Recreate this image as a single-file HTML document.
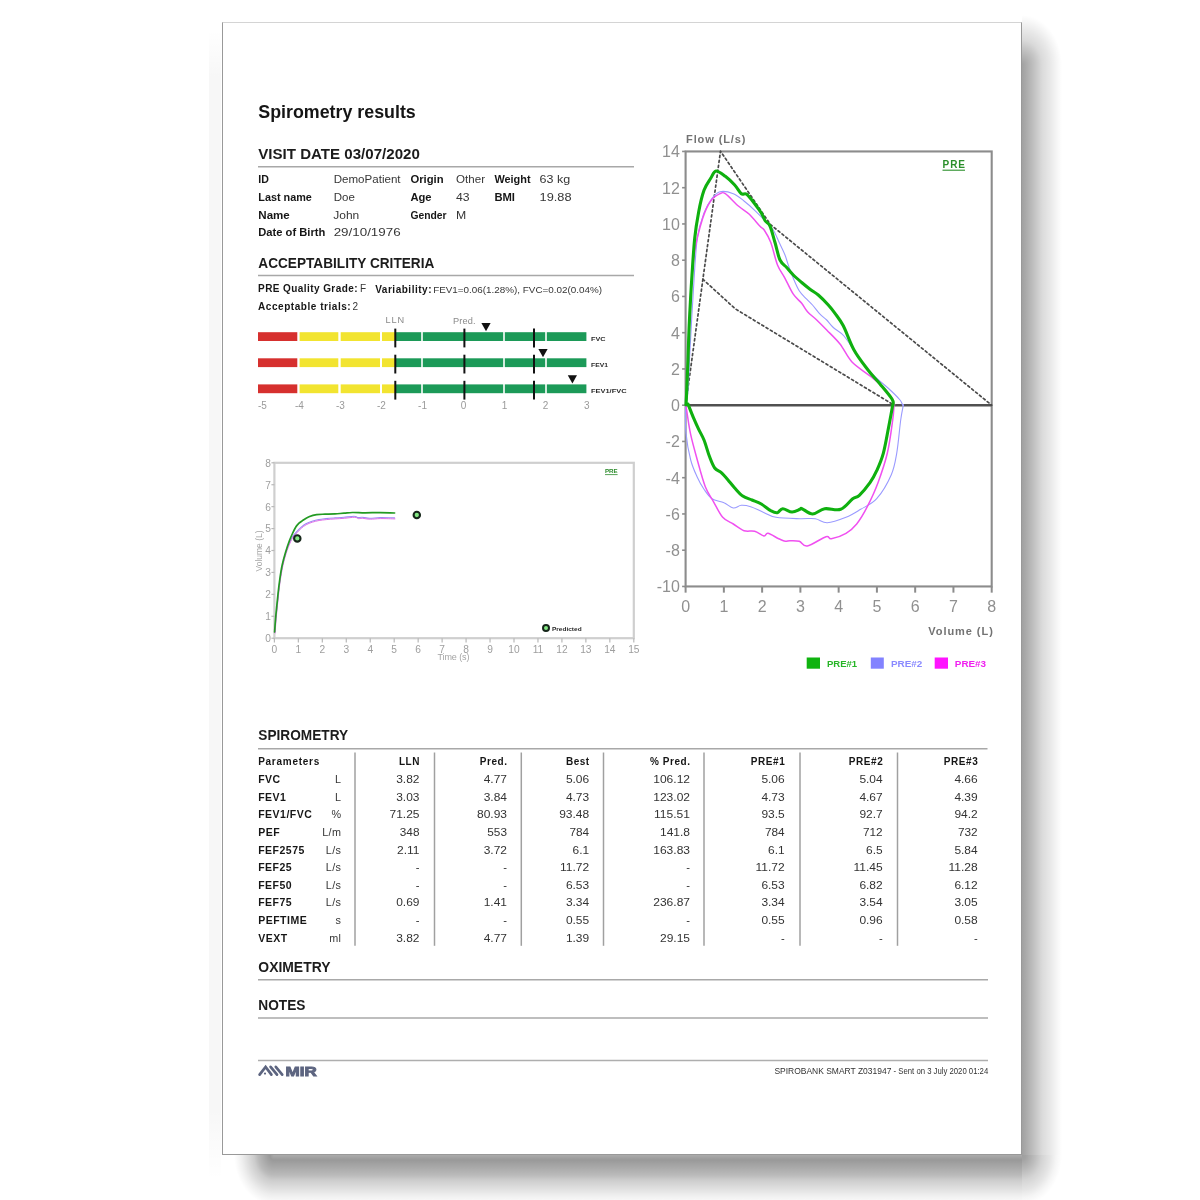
<!DOCTYPE html>
<html><head><meta charset="utf-8"><style>
html,body{margin:0;padding:0;background:#fff;width:1200px;height:1200px;overflow:hidden;}
body{filter:blur(0.4px);}
#paper{position:absolute;left:222px;top:22px;width:798px;height:1131px;background:#fff;border:1px solid #999;border-top-color:#d4d4d4;}
svg{position:absolute;left:0;top:0;}
text{font-family:"Liberation Sans", sans-serif;}
</style></head><body>
<div style="position:absolute;left:1022px;top:65px;width:40px;height:1090px;background:linear-gradient(to right,rgba(0,0,0,0.370) 0.0%,rgba(0,0,0,0.340) 7.5%,rgba(0,0,0,0.230) 32.5%,rgba(0,0,0,0.145) 50.0%,rgba(0,0,0,0.090) 70.0%,rgba(0,0,0,0.035) 87.5%,rgba(0,0,0,0.000) 100.0%)"></div><div style="position:absolute;left:274px;top:1155px;width:748px;height:50px;background:linear-gradient(to bottom,rgba(0,0,0,0.330) 0.0%,rgba(0,0,0,0.400) 10.0%,rgba(0,0,0,0.340) 24.0%,rgba(0,0,0,0.270) 40.0%,rgba(0,0,0,0.200) 50.0%,rgba(0,0,0,0.130) 66.0%,rgba(0,0,0,0.067) 80.0%,rgba(0,0,0,0.030) 90.0%,rgba(0,0,0,0.000) 100.0%)"></div><div style="position:absolute;left:224px;top:65px;width:40px;height:1090px;background:linear-gradient(to left,rgba(0,0,0,0.130) 0.0%,rgba(0,0,0,0.119) 7.5%,rgba(0,0,0,0.081) 32.5%,rgba(0,0,0,0.051) 50.0%,rgba(0,0,0,0.032) 70.0%,rgba(0,0,0,0.012) 87.5%,rgba(0,0,0,0.000) 100.0%)"></div><div style="position:absolute;left:1022px;top:1155px;width:40px;height:50px;background:radial-gradient(40px 50px at 0 0,rgba(0,0,0,0.380) 0.0%,rgba(0,0,0,0.360) 10.0%,rgba(0,0,0,0.270) 30.0%,rgba(0,0,0,0.170) 50.0%,rgba(0,0,0,0.100) 70.0%,rgba(0,0,0,0.040) 85.0%,rgba(0,0,0,0.000) 100.0%)"></div><div style="position:absolute;left:234px;top:1155px;width:40px;height:50px;background:radial-gradient(40px 50px at 40px 0,rgba(0,0,0,0.330) 0.0%,rgba(0,0,0,0.400) 10.0%,rgba(0,0,0,0.340) 24.0%,rgba(0,0,0,0.270) 40.0%,rgba(0,0,0,0.200) 50.0%,rgba(0,0,0,0.130) 66.0%,rgba(0,0,0,0.067) 80.0%,rgba(0,0,0,0.030) 90.0%,rgba(0,0,0,0.000) 100.0%)"></div><div style="position:absolute;left:1022px;top:15px;width:40px;height:50px;background:radial-gradient(40px 50px at 0 50px,rgba(0,0,0,0.370) 0.0%,rgba(0,0,0,0.340) 7.5%,rgba(0,0,0,0.230) 32.5%,rgba(0,0,0,0.145) 50.0%,rgba(0,0,0,0.090) 70.0%,rgba(0,0,0,0.035) 87.5%,rgba(0,0,0,0.000) 100.0%)"></div><div style="position:absolute;left:209px;top:30px;width:12px;height:1150px;background:linear-gradient(to bottom,rgba(0,0,0,0) 0%,rgba(0,0,0,.03) 4%,rgba(0,0,0,.03) 94%,rgba(0,0,0,0) 100%)"></div>
<div id="paper"></div>
<svg width="1200" height="1200" viewBox="0 0 1200 1200">
<text x="258.30" y="117.50" font-size="19" font-weight="bold" fill="#151515" textLength="157.50" lengthAdjust="spacingAndGlyphs">Spirometry results</text>
<text x="258.30" y="158.70" font-size="14.5" font-weight="bold" fill="#1c1c1c" textLength="161.50" lengthAdjust="spacingAndGlyphs">VISIT DATE 03/07/2020</text>
<line x1="258" y1="166.7" x2="634" y2="166.7" stroke="#a8a8a8" stroke-width="1.6"/>
<text x="258.30" y="183.00" font-size="10.2" font-weight="bold" fill="#161616" textLength="10.60" lengthAdjust="spacingAndGlyphs">ID</text>
<text x="333.70" y="183.00" font-size="10.8" fill="#363636" textLength="66.90" lengthAdjust="spacingAndGlyphs">DemoPatient</text>
<text x="410.40" y="183.00" font-size="10.2" font-weight="bold" fill="#161616" textLength="33.20" lengthAdjust="spacingAndGlyphs">Origin</text>
<text x="456.00" y="183.00" font-size="10.8" fill="#363636" textLength="29.00" lengthAdjust="spacingAndGlyphs">Other</text>
<text x="494.40" y="183.00" font-size="10.2" font-weight="bold" fill="#161616" textLength="36.20" lengthAdjust="spacingAndGlyphs">Weight</text>
<text x="539.60" y="183.00" font-size="10.8" fill="#363636" textLength="30.60" lengthAdjust="spacingAndGlyphs">63 kg</text>
<text x="258.30" y="200.75" font-size="10.2" font-weight="bold" fill="#161616" textLength="53.60" lengthAdjust="spacingAndGlyphs">Last name</text>
<text x="333.70" y="200.75" font-size="10.8" fill="#363636" textLength="21.10" lengthAdjust="spacingAndGlyphs">Doe</text>
<text x="410.40" y="200.75" font-size="10.2" font-weight="bold" fill="#161616" textLength="21.20" lengthAdjust="spacingAndGlyphs">Age</text>
<text x="456.00" y="200.75" font-size="10.8" fill="#363636" textLength="13.60" lengthAdjust="spacingAndGlyphs">43</text>
<text x="494.40" y="200.75" font-size="10.2" font-weight="bold" fill="#161616" textLength="20.60" lengthAdjust="spacingAndGlyphs">BMI</text>
<text x="539.60" y="200.75" font-size="10.8" fill="#363636" textLength="32.00" lengthAdjust="spacingAndGlyphs">19.88</text>
<text x="258.30" y="218.50" font-size="10.2" font-weight="bold" fill="#161616" textLength="31.50" lengthAdjust="spacingAndGlyphs">Name</text>
<text x="333.30" y="218.50" font-size="10.8" fill="#363636" textLength="26.00" lengthAdjust="spacingAndGlyphs">John</text>
<text x="410.40" y="218.50" font-size="10.2" font-weight="bold" fill="#161616" textLength="36.20" lengthAdjust="spacingAndGlyphs">Gender</text>
<text x="456.00" y="218.50" font-size="10.8" fill="#363636" textLength="10.20" lengthAdjust="spacingAndGlyphs">M</text>
<text x="258.30" y="236.30" font-size="10.2" font-weight="bold" fill="#161616" textLength="67.00" lengthAdjust="spacingAndGlyphs">Date of Birth</text>
<text x="333.70" y="236.30" font-size="10.8" fill="#363636" textLength="66.90" lengthAdjust="spacingAndGlyphs">29/10/1976</text>
<text x="258.30" y="267.80" font-size="14.5" font-weight="bold" fill="#1c1c1c" textLength="176.00" lengthAdjust="spacingAndGlyphs">ACCEPTABILITY CRITERIA</text>
<line x1="258" y1="275.5" x2="634" y2="275.5" stroke="#a8a8a8" stroke-width="1.6"/>
<text x="258.10" y="292.00" font-size="10" font-weight="bold" fill="#161616" textLength="99.40" lengthAdjust="spacing">PRE Quality Grade:</text>
<text x="360.00" y="292.00" font-size="10" fill="#363636">F</text>
<text x="375.20" y="292.60" font-size="10" font-weight="bold" fill="#161616" textLength="56.30" lengthAdjust="spacing">Variability:</text>
<text x="433.20" y="292.60" font-size="9.3" fill="#363636" textLength="168.80" lengthAdjust="spacingAndGlyphs">FEV1=0.06(1.28%), FVC=0.02(0.04%)</text>
<text x="258.10" y="310.30" font-size="10" font-weight="bold" fill="#161616" textLength="92.60" lengthAdjust="spacing">Acceptable trials:</text>
<text x="352.50" y="310.30" font-size="10" fill="#363636">2</text>
<rect x="258.00" y="332.20" width="39.30" height="8.80" fill="#d6302e"/>
<rect x="299.60" y="332.20" width="38.70" height="8.80" fill="#f2e430"/>
<rect x="340.70" y="332.20" width="39.30" height="8.80" fill="#f2e430"/>
<rect x="382.00" y="332.20" width="13.30" height="8.80" fill="#f2e430"/>
<rect x="395.30" y="332.20" width="25.90" height="8.80" fill="#1c9a58"/>
<rect x="422.80" y="332.20" width="80.40" height="8.80" fill="#1c9a58"/>
<rect x="504.80" y="332.20" width="40.40" height="8.80" fill="#1c9a58"/>
<rect x="546.80" y="332.20" width="39.60" height="8.80" fill="#1c9a58"/>
<line x1="395.3" y1="328.59999999999997" x2="395.3" y2="347.4" stroke="#111" stroke-width="2"/>
<line x1="464.4" y1="328.59999999999997" x2="464.4" y2="347.4" stroke="#111" stroke-width="2"/>
<line x1="534.0" y1="328.59999999999997" x2="534.0" y2="347.4" stroke="#111" stroke-width="2"/>
<path d="M481.4,323.0 L490.6,323.0 L486.0,331.2 Z" fill="#111"/>
<text x="591.00" y="340.80" font-size="6.2" font-weight="bold" fill="#2a2a2a" textLength="14.50" lengthAdjust="spacingAndGlyphs">FVC</text>
<rect x="258.00" y="358.30" width="39.30" height="8.80" fill="#d6302e"/>
<rect x="299.60" y="358.30" width="38.70" height="8.80" fill="#f2e430"/>
<rect x="340.70" y="358.30" width="39.30" height="8.80" fill="#f2e430"/>
<rect x="382.00" y="358.30" width="13.30" height="8.80" fill="#f2e430"/>
<rect x="395.30" y="358.30" width="25.90" height="8.80" fill="#1c9a58"/>
<rect x="422.80" y="358.30" width="80.40" height="8.80" fill="#1c9a58"/>
<rect x="504.80" y="358.30" width="40.40" height="8.80" fill="#1c9a58"/>
<rect x="546.80" y="358.30" width="39.60" height="8.80" fill="#1c9a58"/>
<line x1="395.3" y1="354.7" x2="395.3" y2="373.5" stroke="#111" stroke-width="2"/>
<line x1="464.4" y1="354.7" x2="464.4" y2="373.5" stroke="#111" stroke-width="2"/>
<line x1="534.0" y1="354.7" x2="534.0" y2="373.5" stroke="#111" stroke-width="2"/>
<path d="M538.4,349.1 L547.6,349.1 L543.0,357.3 Z" fill="#111"/>
<text x="591.00" y="366.90" font-size="6.2" font-weight="bold" fill="#2a2a2a" textLength="17.00" lengthAdjust="spacingAndGlyphs">FEV1</text>
<rect x="258.00" y="384.40" width="39.30" height="8.80" fill="#d6302e"/>
<rect x="299.60" y="384.40" width="38.70" height="8.80" fill="#f2e430"/>
<rect x="340.70" y="384.40" width="39.30" height="8.80" fill="#f2e430"/>
<rect x="382.00" y="384.40" width="13.30" height="8.80" fill="#f2e430"/>
<rect x="395.30" y="384.40" width="25.90" height="8.80" fill="#1c9a58"/>
<rect x="422.80" y="384.40" width="80.40" height="8.80" fill="#1c9a58"/>
<rect x="504.80" y="384.40" width="40.40" height="8.80" fill="#1c9a58"/>
<rect x="546.80" y="384.40" width="39.60" height="8.80" fill="#1c9a58"/>
<line x1="395.3" y1="380.79999999999995" x2="395.3" y2="399.59999999999997" stroke="#111" stroke-width="2"/>
<line x1="464.4" y1="380.79999999999995" x2="464.4" y2="399.59999999999997" stroke="#111" stroke-width="2"/>
<line x1="534.0" y1="380.79999999999995" x2="534.0" y2="399.59999999999997" stroke="#111" stroke-width="2"/>
<path d="M567.8,375.2 L577.0,375.2 L572.4,383.4 Z" fill="#111"/>
<text x="591.00" y="393.00" font-size="6.2" font-weight="bold" fill="#2a2a2a" textLength="35.50" lengthAdjust="spacingAndGlyphs">FEV1/FVC</text>
<text x="385.60" y="323.20" font-size="9.2" fill="#8a8a8a" textLength="18.50" lengthAdjust="spacing">LLN</text>
<text x="453.00" y="323.60" font-size="9.2" fill="#8a8a8a" textLength="22.50" lengthAdjust="spacing">Pred.</text>
<text x="257.90" y="408.60" font-size="10" fill="#9a9a9a">-5</text>
<text x="299.35" y="408.60" font-size="10" fill="#9a9a9a" text-anchor="middle">-4</text>
<text x="340.40" y="408.60" font-size="10" fill="#9a9a9a" text-anchor="middle">-3</text>
<text x="381.45" y="408.60" font-size="10" fill="#9a9a9a" text-anchor="middle">-2</text>
<text x="422.50" y="408.60" font-size="10" fill="#9a9a9a" text-anchor="middle">-1</text>
<text x="463.55" y="408.60" font-size="10" fill="#9a9a9a" text-anchor="middle">0</text>
<text x="504.60" y="408.60" font-size="10" fill="#9a9a9a" text-anchor="middle">1</text>
<text x="545.65" y="408.60" font-size="10" fill="#9a9a9a" text-anchor="middle">2</text>
<text x="586.70" y="408.60" font-size="10" fill="#9a9a9a" text-anchor="middle">3</text>
<rect x="274.4" y="462.80" width="359.40" height="175.40" fill="none" stroke="#cfcfcf" stroke-width="2.2"/>
<line x1="274.4" y1="638.2" x2="274.4" y2="642.4000000000001" stroke="#b8b8b8" stroke-width="1.2"/>
<text x="274.40" y="653.20" font-size="10.2" fill="#9e9e9e" text-anchor="middle">0</text>
<line x1="298.35999999999996" y1="638.2" x2="298.35999999999996" y2="642.4000000000001" stroke="#b8b8b8" stroke-width="1.2"/>
<text x="298.36" y="653.20" font-size="10.2" fill="#9e9e9e" text-anchor="middle">1</text>
<line x1="322.32" y1="638.2" x2="322.32" y2="642.4000000000001" stroke="#b8b8b8" stroke-width="1.2"/>
<text x="322.32" y="653.20" font-size="10.2" fill="#9e9e9e" text-anchor="middle">2</text>
<line x1="346.28" y1="638.2" x2="346.28" y2="642.4000000000001" stroke="#b8b8b8" stroke-width="1.2"/>
<text x="346.28" y="653.20" font-size="10.2" fill="#9e9e9e" text-anchor="middle">3</text>
<line x1="370.24" y1="638.2" x2="370.24" y2="642.4000000000001" stroke="#b8b8b8" stroke-width="1.2"/>
<text x="370.24" y="653.20" font-size="10.2" fill="#9e9e9e" text-anchor="middle">4</text>
<line x1="394.2" y1="638.2" x2="394.2" y2="642.4000000000001" stroke="#b8b8b8" stroke-width="1.2"/>
<text x="394.20" y="653.20" font-size="10.2" fill="#9e9e9e" text-anchor="middle">5</text>
<line x1="418.15999999999997" y1="638.2" x2="418.15999999999997" y2="642.4000000000001" stroke="#b8b8b8" stroke-width="1.2"/>
<text x="418.16" y="653.20" font-size="10.2" fill="#9e9e9e" text-anchor="middle">6</text>
<line x1="442.12" y1="638.2" x2="442.12" y2="642.4000000000001" stroke="#b8b8b8" stroke-width="1.2"/>
<text x="442.12" y="653.20" font-size="10.2" fill="#9e9e9e" text-anchor="middle">7</text>
<line x1="466.08" y1="638.2" x2="466.08" y2="642.4000000000001" stroke="#b8b8b8" stroke-width="1.2"/>
<text x="466.08" y="653.20" font-size="10.2" fill="#9e9e9e" text-anchor="middle">8</text>
<line x1="490.03999999999996" y1="638.2" x2="490.03999999999996" y2="642.4000000000001" stroke="#b8b8b8" stroke-width="1.2"/>
<text x="490.04" y="653.20" font-size="10.2" fill="#9e9e9e" text-anchor="middle">9</text>
<line x1="514.0" y1="638.2" x2="514.0" y2="642.4000000000001" stroke="#b8b8b8" stroke-width="1.2"/>
<text x="514.00" y="653.20" font-size="10.2" fill="#9e9e9e" text-anchor="middle">10</text>
<line x1="537.96" y1="638.2" x2="537.96" y2="642.4000000000001" stroke="#b8b8b8" stroke-width="1.2"/>
<text x="537.96" y="653.20" font-size="10.2" fill="#9e9e9e" text-anchor="middle">11</text>
<line x1="561.92" y1="638.2" x2="561.92" y2="642.4000000000001" stroke="#b8b8b8" stroke-width="1.2"/>
<text x="561.92" y="653.20" font-size="10.2" fill="#9e9e9e" text-anchor="middle">12</text>
<line x1="585.88" y1="638.2" x2="585.88" y2="642.4000000000001" stroke="#b8b8b8" stroke-width="1.2"/>
<text x="585.88" y="653.20" font-size="10.2" fill="#9e9e9e" text-anchor="middle">13</text>
<line x1="609.8399999999999" y1="638.2" x2="609.8399999999999" y2="642.4000000000001" stroke="#b8b8b8" stroke-width="1.2"/>
<text x="609.84" y="653.20" font-size="10.2" fill="#9e9e9e" text-anchor="middle">14</text>
<line x1="633.8" y1="638.2" x2="633.8" y2="642.4000000000001" stroke="#b8b8b8" stroke-width="1.2"/>
<text x="633.80" y="653.20" font-size="10.2" fill="#9e9e9e" text-anchor="middle">15</text>
<line x1="271.4" y1="638.2" x2="274.4" y2="638.2" stroke="#b8b8b8" stroke-width="1.2"/>
<text x="270.80" y="642.10" font-size="10.2" fill="#9e9e9e" text-anchor="end">0</text>
<line x1="271.4" y1="616.2750000000001" x2="274.4" y2="616.2750000000001" stroke="#b8b8b8" stroke-width="1.2"/>
<text x="270.80" y="620.18" font-size="10.2" fill="#9e9e9e" text-anchor="end">1</text>
<line x1="271.4" y1="594.35" x2="274.4" y2="594.35" stroke="#b8b8b8" stroke-width="1.2"/>
<text x="270.80" y="598.25" font-size="10.2" fill="#9e9e9e" text-anchor="end">2</text>
<line x1="271.4" y1="572.4250000000001" x2="274.4" y2="572.4250000000001" stroke="#b8b8b8" stroke-width="1.2"/>
<text x="270.80" y="576.33" font-size="10.2" fill="#9e9e9e" text-anchor="end">3</text>
<line x1="271.4" y1="550.5" x2="274.4" y2="550.5" stroke="#b8b8b8" stroke-width="1.2"/>
<text x="270.80" y="554.40" font-size="10.2" fill="#9e9e9e" text-anchor="end">4</text>
<line x1="271.4" y1="528.575" x2="274.4" y2="528.575" stroke="#b8b8b8" stroke-width="1.2"/>
<text x="270.80" y="532.48" font-size="10.2" fill="#9e9e9e" text-anchor="end">5</text>
<line x1="271.4" y1="506.65000000000003" x2="274.4" y2="506.65000000000003" stroke="#b8b8b8" stroke-width="1.2"/>
<text x="270.80" y="510.55" font-size="10.2" fill="#9e9e9e" text-anchor="end">6</text>
<line x1="271.4" y1="484.725" x2="274.4" y2="484.725" stroke="#b8b8b8" stroke-width="1.2"/>
<text x="270.80" y="488.62" font-size="10.2" fill="#9e9e9e" text-anchor="end">7</text>
<line x1="271.4" y1="462.8" x2="274.4" y2="462.8" stroke="#b8b8b8" stroke-width="1.2"/>
<text x="270.80" y="466.70" font-size="10.2" fill="#9e9e9e" text-anchor="end">8</text>
<text x="453.50" y="659.80" font-size="9" fill="#a4a4a4" text-anchor="middle" textLength="32.00" lengthAdjust="spacing">Time (s)</text>
<text x="0" y="0" font-size="9" fill="#a4a4a4" text-anchor="middle" textLength="41" lengthAdjust="spacingAndGlyphs" transform="translate(262.2,551) rotate(-90)">Volume (L)</text>
<path d="M274.8,632.0 C275.0,629.2 275.5,621.3 276.1,615.0 C276.7,608.7 277.6,600.0 278.2,594.2 C278.8,588.4 279.2,584.9 279.9,580.0 C280.6,575.1 281.5,569.6 282.5,565.0 C283.5,560.4 284.6,556.3 285.8,552.5 C287.0,548.7 288.5,544.8 289.7,542.0 C290.9,539.2 291.8,537.8 293.0,536.0 C294.2,534.2 295.7,532.9 297.0,531.4 C298.3,529.9 299.5,528.6 301.0,527.3 C302.5,526.0 304.0,524.8 305.8,523.8 C307.6,522.8 309.8,521.9 312.0,521.2 C314.2,520.5 316.5,519.9 318.8,519.5 C321.1,519.1 323.3,518.9 326.0,518.6 C328.7,518.3 332.0,518.1 335.0,517.9 C338.0,517.7 340.8,517.6 344.0,517.3 C347.2,517.0 352.2,516.2 354.5,516.3 C356.8,516.3 356.8,517.4 358.0,517.6 C359.2,517.8 360.0,517.2 362.0,517.3 C364.0,517.4 367.0,518.2 370.0,518.2 C373.0,518.2 375.9,517.7 380.0,517.6 C384.1,517.5 392.2,517.9 394.6,517.9" fill="none" stroke="#9d8cf5" stroke-width="1.1" stroke-linejoin="round" stroke-linecap="round"/>
<path d="M275.1,633.0 C275.3,630.2 275.8,622.3 276.4,616.0 C277.0,609.7 277.9,601.0 278.5,595.2 C279.1,589.4 279.5,585.9 280.2,581.0 C280.9,576.1 281.8,570.6 282.8,566.0 C283.8,561.4 284.9,557.3 286.1,553.5 C287.3,549.7 288.8,545.8 290.0,543.0 C291.2,540.2 292.1,538.8 293.3,537.0 C294.5,535.2 296.0,533.9 297.3,532.4 C298.6,530.9 299.8,529.6 301.3,528.3 C302.8,527.0 304.3,525.8 306.1,524.8 C307.9,523.8 310.1,522.9 312.3,522.2 C314.5,521.5 316.8,520.9 319.1,520.5 C321.4,520.1 323.6,519.9 326.3,519.6 C329.0,519.3 332.3,519.1 335.3,518.9 C338.3,518.7 341.1,518.6 344.3,518.3 C347.6,518.0 352.5,517.2 354.8,517.3 C357.1,517.3 357.1,518.4 358.3,518.6 C359.6,518.8 360.3,518.2 362.3,518.3 C364.3,518.4 367.3,519.2 370.3,519.2 C373.3,519.2 376.2,518.7 380.3,518.6 C384.4,518.5 392.5,518.9 394.9,518.9" fill="none" stroke="#e070e8" stroke-width="1.0" stroke-linejoin="round" stroke-linecap="round"/>
<path d="M274.6,632.0 C274.8,629.2 275.3,621.3 275.9,615.0 C276.5,608.7 277.4,600.0 278.0,594.2 C278.6,588.4 279.0,584.9 279.7,580.0 C280.4,575.1 281.2,569.6 282.2,565.0 C283.2,560.4 284.3,556.5 285.5,552.5 C286.7,548.5 288.1,544.2 289.3,541.0 C290.5,537.8 291.4,535.8 292.5,533.5 C293.6,531.2 294.7,528.7 295.8,527.0 C296.9,525.3 297.9,524.3 299.0,523.2 C300.1,522.1 300.8,521.7 302.5,520.6 C304.2,519.5 306.6,517.8 309.0,516.8 C311.4,515.8 313.9,515.0 316.6,514.6 C319.3,514.2 321.9,514.3 325.0,514.2 C328.1,514.1 331.8,514.1 335.0,513.9 C338.2,513.7 341.1,513.4 344.0,513.2 C346.9,513.0 348.8,512.6 352.3,512.5 C355.8,512.4 360.4,512.8 365.0,512.8 C369.6,512.8 375.1,512.6 380.0,512.6 C384.9,512.6 392.2,512.9 394.6,513.0" fill="none" stroke="#239a23" stroke-width="1.7" stroke-linejoin="round" stroke-linecap="round"/>
<circle cx="297.3" cy="538.4" r="3.2" fill="#84e884" stroke="#16261a" stroke-width="2.1"/>
<circle cx="416.8" cy="515.0" r="3.2" fill="#84e884" stroke="#16261a" stroke-width="2.1"/>
<circle cx="546" cy="628" r="3.0" fill="#84e884" stroke="#16261a" stroke-width="2"/>
<text x="552.00" y="630.60" font-size="6.2" font-weight="bold" fill="#2a2a2a" textLength="29.60" lengthAdjust="spacingAndGlyphs">Predicted</text>
<text x="605.00" y="472.80" font-size="6.2" font-weight="bold" fill="#2a8a2a" textLength="12.60" lengthAdjust="spacingAndGlyphs">PRE</text>
<line x1="605" y1="474.6" x2="617.6" y2="474.6" stroke="#2a8a2a" stroke-width="0.8"/>
<rect x="685.6" y="151.45" width="306.10" height="435.00" fill="none" stroke="#8c8c8c" stroke-width="2.1"/>
<line x1="685.6" y1="586.45" x2="685.6" y2="592.6500000000001" stroke="#8c8c8c" stroke-width="2"/>
<text x="685.60" y="611.60" font-size="16" fill="#909090" text-anchor="middle">0</text>
<line x1="723.8625000000001" y1="586.45" x2="723.8625000000001" y2="592.6500000000001" stroke="#8c8c8c" stroke-width="2"/>
<text x="723.86" y="611.60" font-size="16" fill="#909090" text-anchor="middle">1</text>
<line x1="762.125" y1="586.45" x2="762.125" y2="592.6500000000001" stroke="#8c8c8c" stroke-width="2"/>
<text x="762.12" y="611.60" font-size="16" fill="#909090" text-anchor="middle">2</text>
<line x1="800.3875" y1="586.45" x2="800.3875" y2="592.6500000000001" stroke="#8c8c8c" stroke-width="2"/>
<text x="800.39" y="611.60" font-size="16" fill="#909090" text-anchor="middle">3</text>
<line x1="838.6500000000001" y1="586.45" x2="838.6500000000001" y2="592.6500000000001" stroke="#8c8c8c" stroke-width="2"/>
<text x="838.65" y="611.60" font-size="16" fill="#909090" text-anchor="middle">4</text>
<line x1="876.9125" y1="586.45" x2="876.9125" y2="592.6500000000001" stroke="#8c8c8c" stroke-width="2"/>
<text x="876.91" y="611.60" font-size="16" fill="#909090" text-anchor="middle">5</text>
<line x1="915.1750000000001" y1="586.45" x2="915.1750000000001" y2="592.6500000000001" stroke="#8c8c8c" stroke-width="2"/>
<text x="915.18" y="611.60" font-size="16" fill="#909090" text-anchor="middle">6</text>
<line x1="953.4375" y1="586.45" x2="953.4375" y2="592.6500000000001" stroke="#8c8c8c" stroke-width="2"/>
<text x="953.44" y="611.60" font-size="16" fill="#909090" text-anchor="middle">7</text>
<line x1="991.7" y1="586.45" x2="991.7" y2="592.6500000000001" stroke="#8c8c8c" stroke-width="2"/>
<text x="991.70" y="611.60" font-size="16" fill="#909090" text-anchor="middle">8</text>
<line x1="682.1" y1="586.45" x2="685.6" y2="586.45" stroke="#8c8c8c" stroke-width="1.6"/>
<text x="679.80" y="592.25" font-size="16" fill="#909090" text-anchor="end">-10</text>
<line x1="682.1" y1="550.2" x2="685.6" y2="550.2" stroke="#8c8c8c" stroke-width="1.6"/>
<text x="679.80" y="556.00" font-size="16" fill="#909090" text-anchor="end">-8</text>
<line x1="682.1" y1="513.95" x2="685.6" y2="513.95" stroke="#8c8c8c" stroke-width="1.6"/>
<text x="679.80" y="519.75" font-size="16" fill="#909090" text-anchor="end">-6</text>
<line x1="682.1" y1="477.7" x2="685.6" y2="477.7" stroke="#8c8c8c" stroke-width="1.6"/>
<text x="679.80" y="483.50" font-size="16" fill="#909090" text-anchor="end">-4</text>
<line x1="682.1" y1="441.45" x2="685.6" y2="441.45" stroke="#8c8c8c" stroke-width="1.6"/>
<text x="679.80" y="447.25" font-size="16" fill="#909090" text-anchor="end">-2</text>
<line x1="682.1" y1="405.2" x2="685.6" y2="405.2" stroke="#8c8c8c" stroke-width="1.6"/>
<text x="679.80" y="411.00" font-size="16" fill="#909090" text-anchor="end">0</text>
<line x1="682.1" y1="368.95" x2="685.6" y2="368.95" stroke="#8c8c8c" stroke-width="1.6"/>
<text x="679.80" y="374.75" font-size="16" fill="#909090" text-anchor="end">2</text>
<line x1="682.1" y1="332.7" x2="685.6" y2="332.7" stroke="#8c8c8c" stroke-width="1.6"/>
<text x="679.80" y="338.50" font-size="16" fill="#909090" text-anchor="end">4</text>
<line x1="682.1" y1="296.44999999999993" x2="685.6" y2="296.44999999999993" stroke="#8c8c8c" stroke-width="1.6"/>
<text x="679.80" y="302.25" font-size="16" fill="#909090" text-anchor="end">6</text>
<line x1="682.1" y1="260.19999999999993" x2="685.6" y2="260.19999999999993" stroke="#8c8c8c" stroke-width="1.6"/>
<text x="679.80" y="266.00" font-size="16" fill="#909090" text-anchor="end">8</text>
<line x1="682.1" y1="223.94999999999996" x2="685.6" y2="223.94999999999996" stroke="#8c8c8c" stroke-width="1.6"/>
<text x="679.80" y="229.75" font-size="16" fill="#909090" text-anchor="end">10</text>
<line x1="682.1" y1="187.69999999999993" x2="685.6" y2="187.69999999999993" stroke="#8c8c8c" stroke-width="1.6"/>
<text x="679.80" y="193.50" font-size="16" fill="#909090" text-anchor="end">12</text>
<line x1="682.1" y1="151.44999999999993" x2="685.6" y2="151.44999999999993" stroke="#8c8c8c" stroke-width="1.6"/>
<text x="679.80" y="157.25" font-size="16" fill="#909090" text-anchor="end">14</text>
<text x="686.00" y="142.60" font-size="11" font-weight="bold" fill="#737373" textLength="59.50" lengthAdjust="spacing">Flow (L/s)</text>
<text x="928.30" y="635.20" font-size="11" font-weight="bold" fill="#737373" textLength="64.50" lengthAdjust="spacing">Volume (L)</text>
<line x1="685.6" y1="405.2" x2="991.7" y2="405.2" stroke="#505050" stroke-width="2.6"/>
<path d="M685.6,405.2 L720.5,151.2 L770.3,224.4 L991.7,405.2" fill="none" stroke="#4a4a4a" stroke-width="1.7" stroke-linejoin="round" stroke-linecap="round" stroke-dasharray="2.2,2.8" stroke-linecap="butt" stroke-linejoin="miter"/>
<path d="M702.8,279.2 L735.5,309.0 L893.0,404.5" fill="none" stroke="#4a4a4a" stroke-width="1.7" stroke-linejoin="round" stroke-linecap="round" stroke-dasharray="2.2,2.8" stroke-linecap="butt"/>
<text x="942.50" y="168.20" font-size="10" font-weight="bold" fill="#2a8f2a" textLength="22.50" lengthAdjust="spacing">PRE</text>
<line x1="942.5" y1="170.2" x2="965" y2="170.2" stroke="#2a8f2a" stroke-width="1.1"/>
<path d="M686.0,405.0 C686.3,402.5 687.3,399.2 688.0,390.0 C688.7,380.8 689.1,366.4 690.0,350.0 C690.9,333.6 692.1,310.3 693.3,291.7 C694.5,273.1 695.5,251.4 697.3,238.3 C699.1,225.2 701.5,219.7 704.0,213.0 C706.5,206.3 709.3,201.9 712.0,198.3 C714.7,194.8 716.5,192.5 720.0,191.7 C723.5,190.9 729.3,192.1 733.3,193.7 C737.3,195.2 740.4,198.2 744.0,201.0 C747.6,203.8 751.2,207.0 754.7,210.3 C758.2,213.6 762.2,217.7 765.3,221.0 C768.4,224.3 771.0,226.4 773.3,230.0 C775.6,233.6 777.2,238.3 779.2,242.5 C781.2,246.7 783.5,251.2 785.0,255.0 C786.5,258.8 786.9,261.1 788.3,265.0 C789.7,268.9 791.5,274.0 793.3,278.3 C795.1,282.6 797.0,287.3 799.2,290.8 C801.4,294.3 804.5,296.8 806.7,299.2 C808.9,301.6 810.3,302.5 812.5,305.0 C814.7,307.5 817.6,311.7 820.0,314.2 C822.4,316.7 824.5,317.8 826.7,320.0 C828.9,322.2 830.4,324.8 833.3,327.5 C836.2,330.2 839.9,331.2 844.0,336.0 C848.1,340.8 853.3,349.7 858.0,356.0 C862.7,362.3 867.0,368.7 872.0,374.0 C877.0,379.3 883.3,383.7 888.0,388.0 C892.7,392.3 897.5,397.0 900.0,400.0 C902.5,403.0 902.5,405.1 903.0,406.0 C903.5,406.9 903.7,403.0 903.3,405.3 C902.9,407.6 901.8,412.0 900.7,420.0 C899.6,428.0 898.3,444.2 896.7,453.3 C895.1,462.4 894.6,467.1 891.3,474.7 C888.0,482.3 881.8,492.9 876.7,498.7 C871.6,504.5 865.8,506.2 860.7,509.3 C855.6,512.4 851.6,515.1 846.0,517.3 C840.4,519.5 832.4,522.5 827.3,522.7 C822.2,522.9 819.8,519.4 815.3,518.7 C810.8,518.0 806.5,518.9 800.0,518.7 C793.5,518.5 782.2,518.4 776.0,517.3 C769.8,516.2 766.9,513.8 762.7,512.0 C758.5,510.2 754.3,507.8 750.7,506.7 C747.1,505.6 744.2,505.1 741.3,505.3 C738.4,505.5 736.2,508.4 733.3,508.0 C730.4,507.6 727.5,504.2 724.0,502.7 C720.5,501.1 715.3,500.9 712.0,498.7 C708.7,496.5 706.5,492.9 704.0,489.3 C701.5,485.7 699.5,482.2 697.3,477.3 C695.1,472.4 692.6,467.3 690.7,460.0 C688.8,452.7 686.9,442.5 686.0,433.3 C685.1,424.1 685.6,409.7 685.5,405.0" fill="none" stroke="#9a9aff" stroke-width="1.1" stroke-linejoin="round" stroke-linecap="round"/>
<path d="M686.0,405.0 C686.3,399.2 687.3,386.7 688.0,370.0 C688.7,353.3 688.9,324.7 690.0,305.0 C691.1,285.3 692.6,266.1 694.7,251.7 C696.8,237.2 700.0,226.8 702.7,218.3 C705.4,209.9 707.8,205.1 710.7,201.0 C713.6,196.9 717.6,194.9 720.0,193.7 C722.4,192.5 722.2,191.6 725.3,193.7 C728.4,195.8 734.7,202.9 738.7,206.3 C742.7,209.7 745.8,211.0 749.3,214.3 C752.8,217.6 757.5,223.7 760.0,226.3 C762.5,228.9 762.4,227.3 764.2,230.0 C766.0,232.7 768.6,236.7 770.8,242.5 C773.0,248.3 775.1,259.0 777.5,265.0 C779.9,271.0 782.4,273.4 785.0,278.3 C787.6,283.2 790.5,290.0 793.3,294.2 C796.1,298.4 799.3,300.4 801.7,303.3 C804.1,306.2 805.0,308.9 807.5,311.7 C810.0,314.5 813.5,316.9 816.7,320.0 C819.9,323.1 822.8,326.0 826.7,330.0 C830.6,334.0 835.8,338.7 840.0,344.0 C844.2,349.3 847.0,356.7 852.0,362.0 C857.0,367.3 864.3,371.3 870.0,376.0 C875.7,380.7 882.0,385.3 886.0,390.0 C890.0,394.7 892.7,401.4 894.0,404.0 C895.3,406.6 894.2,402.6 894.0,405.3 C893.8,408.0 893.8,412.0 892.7,420.0 C891.6,428.0 889.8,442.9 887.3,453.3 C884.8,463.8 881.3,473.8 878.0,482.7 C874.7,491.6 870.8,499.8 867.3,506.7 C863.8,513.6 860.2,519.6 856.7,524.0 C853.2,528.4 850.2,530.8 846.0,533.3 C841.8,535.8 834.6,538.1 831.3,538.7 C828.0,539.3 830.0,535.5 826.0,536.7 C822.0,537.9 811.8,545.2 807.3,546.0 C802.8,546.8 802.2,542.2 799.3,541.3 C796.4,540.4 792.3,540.7 790.0,540.7 C787.7,540.7 787.2,541.6 785.3,541.3 C783.4,541.0 781.6,540.0 778.7,538.7 C775.8,537.4 770.5,533.8 768.0,533.3 C765.5,532.8 766.2,536.3 764.0,536.0 C761.8,535.7 758.0,532.2 754.7,531.3 C751.4,530.4 747.6,531.9 744.0,530.7 C740.4,529.5 736.8,526.2 733.3,524.0 C729.8,521.8 726.0,521.1 722.7,517.3 C719.4,513.5 716.2,506.4 713.3,501.3 C710.4,496.2 708.0,493.6 705.3,486.7 C702.6,479.8 699.7,468.7 697.3,460.0 C694.9,451.3 692.5,442.9 690.7,434.7 C688.9,426.5 687.5,415.6 686.7,410.7 C685.9,405.8 686.1,405.9 686.0,405.0" fill="none" stroke="#f050f0" stroke-width="1.5" stroke-linejoin="round" stroke-linecap="round"/>
<path d="M686.0,405.0 C686.2,401.7 686.7,392.5 687.0,385.0 C687.3,377.5 687.7,369.2 688.0,360.0 C688.3,350.8 688.6,340.0 689.0,330.0 C689.4,320.0 690.0,309.2 690.5,300.0 C691.0,290.8 691.3,285.3 692.0,275.0 C692.7,264.7 693.6,248.9 694.7,238.3 C695.8,227.8 697.2,219.7 698.7,211.7 C700.2,203.7 702.0,195.9 704.0,190.3 C706.0,184.7 708.7,181.5 710.7,178.3 C712.7,175.1 713.6,171.3 716.0,171.0 C718.4,170.7 722.2,174.0 725.3,176.3 C728.4,178.6 732.0,182.1 734.7,185.0 C737.4,187.9 739.3,192.1 741.3,193.7 C743.3,195.2 744.5,192.6 746.7,194.3 C748.9,196.0 752.3,200.6 754.7,203.7 C757.1,206.8 759.5,210.1 761.3,213.0 C763.1,215.9 763.8,218.8 765.3,221.0 C766.8,223.2 768.4,222.4 770.0,226.0 C771.6,229.6 773.3,236.8 775.0,242.5 C776.7,248.2 778.0,255.8 780.0,260.0 C782.0,264.2 784.5,265.0 786.7,267.5 C788.9,270.0 790.8,272.5 793.3,275.0 C795.8,277.5 798.9,280.1 801.7,282.5 C804.5,284.9 807.2,287.1 810.0,289.2 C812.8,291.3 815.2,292.4 818.3,295.0 C821.3,297.6 825.5,301.9 828.3,305.0 C831.1,308.1 832.5,309.8 835.0,313.3 C837.5,316.8 840.1,319.7 843.3,325.8 C846.5,331.9 849.9,342.6 854.0,350.0 C858.1,357.4 863.7,364.3 868.0,370.0 C872.3,375.7 876.0,379.2 880.0,384.0 C884.0,388.8 889.8,395.5 892.0,399.0 C894.2,402.5 892.9,403.9 893.0,405.0 C893.1,406.1 893.4,401.7 892.7,405.3 C892.0,408.9 890.3,418.7 888.7,426.7 C887.1,434.7 885.3,446.0 883.3,453.3 C881.3,460.6 878.9,465.8 876.7,470.7 C874.5,475.6 872.9,478.6 870.0,482.7 C867.1,486.8 862.2,492.6 859.3,495.3 C856.4,498.0 855.8,496.4 852.7,498.7 C849.6,501.0 845.4,507.6 840.7,509.3 C836.0,511.0 829.4,507.9 824.7,508.7 C820.0,509.5 816.5,514.0 812.7,514.0 C808.9,514.0 804.1,509.5 802.0,508.7 C799.9,507.9 801.7,508.8 800.0,509.3 C798.3,509.9 794.9,512.1 792.0,512.0 C789.1,511.9 785.2,508.6 782.7,508.7 C780.2,508.8 779.3,512.4 777.3,512.7 C775.3,513.0 773.4,512.1 770.7,510.7 C768.0,509.2 764.4,505.8 761.3,504.0 C758.2,502.2 755.1,501.3 752.0,500.0 C748.9,498.7 745.6,498.0 742.7,496.0 C739.8,494.0 737.2,490.7 734.7,488.0 C732.2,485.3 730.2,482.6 728.0,480.0 C725.8,477.4 723.5,474.7 721.3,472.7 C719.1,470.7 716.7,470.8 714.7,468.0 C712.7,465.2 711.1,460.7 709.3,456.0 C707.5,451.3 705.8,444.4 704.0,440.0 C702.2,435.6 700.5,433.1 698.7,429.3 C696.9,425.5 695.1,421.5 693.3,417.3 C691.5,413.1 688.9,406.2 688.0,404.0" fill="none" stroke="#0fb00f" stroke-width="3.1" stroke-linejoin="round" stroke-linecap="round"/>
<rect x="806.70" y="657.50" width="13.30" height="11.20" fill="#0fb30f"/>
<text x="826.90" y="667.20" font-size="9.5" font-weight="bold" fill="#27b527" textLength="30.30" lengthAdjust="spacingAndGlyphs">PRE#1</text>
<rect x="870.80" y="657.50" width="13.00" height="11.20" fill="#8282ff"/>
<text x="890.90" y="667.20" font-size="9.5" font-weight="bold" fill="#8a8aff" textLength="31.40" lengthAdjust="spacingAndGlyphs">PRE#2</text>
<rect x="934.70" y="657.50" width="13.30" height="11.20" fill="#ff14ff"/>
<text x="954.80" y="667.20" font-size="9.5" font-weight="bold" fill="#f020f0" textLength="31.30" lengthAdjust="spacingAndGlyphs">PRE#3</text>
<text x="258.30" y="740.30" font-size="14" font-weight="bold" fill="#1c1c1c" textLength="89.80" lengthAdjust="spacingAndGlyphs">SPIROMETRY</text>
<line x1="258" y1="748.7" x2="987.5" y2="748.7" stroke="#a8a8a8" stroke-width="1.6"/>
<line x1="355" y1="752.5" x2="355" y2="945.8" stroke="#a0a0a0" stroke-width="1.5"/>
<line x1="434.5" y1="752.5" x2="434.5" y2="945.8" stroke="#a0a0a0" stroke-width="1.5"/>
<line x1="521.3" y1="752.5" x2="521.3" y2="945.8" stroke="#a0a0a0" stroke-width="1.5"/>
<line x1="603.5" y1="752.5" x2="603.5" y2="945.8" stroke="#a0a0a0" stroke-width="1.5"/>
<line x1="704" y1="752.5" x2="704" y2="945.8" stroke="#a0a0a0" stroke-width="1.5"/>
<line x1="800" y1="752.5" x2="800" y2="945.8" stroke="#a0a0a0" stroke-width="1.5"/>
<line x1="897.5" y1="752.5" x2="897.5" y2="945.8" stroke="#a0a0a0" stroke-width="1.5"/>
<text x="258.20" y="765.00" font-size="10" font-weight="bold" fill="#161616" textLength="61.00" lengthAdjust="spacing">Parameters</text>
<text x="419.50" y="765.00" font-size="10" font-weight="bold" fill="#161616" text-anchor="end" textLength="20.54" lengthAdjust="spacing">LLN</text>
<text x="507.00" y="765.00" font-size="10" font-weight="bold" fill="#161616" text-anchor="end" textLength="27.21" lengthAdjust="spacing">Pred.</text>
<text x="589.20" y="765.00" font-size="10" font-weight="bold" fill="#161616" text-anchor="end" textLength="23.32" lengthAdjust="spacing">Best</text>
<text x="690.00" y="765.00" font-size="10" font-weight="bold" fill="#161616" text-anchor="end" textLength="39.98" lengthAdjust="spacing">% Pred.</text>
<text x="784.70" y="765.00" font-size="10" font-weight="bold" fill="#161616" text-anchor="end" textLength="33.88" lengthAdjust="spacing">PRE#1</text>
<text x="882.70" y="765.00" font-size="10" font-weight="bold" fill="#161616" text-anchor="end" textLength="33.88" lengthAdjust="spacing">PRE#2</text>
<text x="977.70" y="765.00" font-size="10" font-weight="bold" fill="#161616" text-anchor="end" textLength="33.88" lengthAdjust="spacing">PRE#3</text>
<text x="258.20" y="782.90" font-size="10.5" font-weight="bold" fill="#161616" textLength="22.00" lengthAdjust="spacing">FVC</text>
<text x="341.00" y="782.90" font-size="10.8" fill="#363636" text-anchor="end" textLength="6.01" lengthAdjust="spacing">L</text>
<text x="419.50" y="782.90" font-size="11.2" fill="#333" text-anchor="end" textLength="23.30" lengthAdjust="spacingAndGlyphs">3.82</text>
<text x="507.00" y="782.90" font-size="11.2" fill="#333" text-anchor="end" textLength="23.30" lengthAdjust="spacingAndGlyphs">4.77</text>
<text x="589.20" y="782.90" font-size="11.2" fill="#333" text-anchor="end" textLength="23.30" lengthAdjust="spacingAndGlyphs">5.06</text>
<text x="690.00" y="782.90" font-size="11.2" fill="#333" text-anchor="end" textLength="36.76" lengthAdjust="spacingAndGlyphs">106.12</text>
<text x="784.70" y="782.90" font-size="11.2" fill="#333" text-anchor="end" textLength="23.30" lengthAdjust="spacingAndGlyphs">5.06</text>
<text x="882.70" y="782.90" font-size="11.2" fill="#333" text-anchor="end" textLength="23.30" lengthAdjust="spacingAndGlyphs">5.04</text>
<text x="977.70" y="782.90" font-size="11.2" fill="#333" text-anchor="end" textLength="23.30" lengthAdjust="spacingAndGlyphs">4.66</text>
<text x="258.20" y="800.55" font-size="10.5" font-weight="bold" fill="#161616" textLength="27.76" lengthAdjust="spacing">FEV1</text>
<text x="341.00" y="800.55" font-size="10.8" fill="#363636" text-anchor="end" textLength="6.01" lengthAdjust="spacing">L</text>
<text x="419.50" y="800.55" font-size="11.2" fill="#333" text-anchor="end" textLength="23.30" lengthAdjust="spacingAndGlyphs">3.03</text>
<text x="507.00" y="800.55" font-size="11.2" fill="#333" text-anchor="end" textLength="23.30" lengthAdjust="spacingAndGlyphs">3.84</text>
<text x="589.20" y="800.55" font-size="11.2" fill="#333" text-anchor="end" textLength="23.30" lengthAdjust="spacingAndGlyphs">4.73</text>
<text x="690.00" y="800.55" font-size="11.2" fill="#333" text-anchor="end" textLength="36.76" lengthAdjust="spacingAndGlyphs">123.02</text>
<text x="784.70" y="800.55" font-size="11.2" fill="#333" text-anchor="end" textLength="23.30" lengthAdjust="spacingAndGlyphs">4.73</text>
<text x="882.70" y="800.55" font-size="11.2" fill="#333" text-anchor="end" textLength="23.30" lengthAdjust="spacingAndGlyphs">4.67</text>
<text x="977.70" y="800.55" font-size="11.2" fill="#333" text-anchor="end" textLength="23.30" lengthAdjust="spacingAndGlyphs">4.39</text>
<text x="258.20" y="818.20" font-size="10.5" font-weight="bold" fill="#161616" textLength="53.68" lengthAdjust="spacing">FEV1/FVC</text>
<text x="341.00" y="818.20" font-size="10.8" fill="#363636" text-anchor="end" textLength="9.60" lengthAdjust="spacing">%</text>
<text x="419.50" y="818.20" font-size="11.2" fill="#333" text-anchor="end" textLength="30.03" lengthAdjust="spacingAndGlyphs">71.25</text>
<text x="507.00" y="818.20" font-size="11.2" fill="#333" text-anchor="end" textLength="30.03" lengthAdjust="spacingAndGlyphs">80.93</text>
<text x="589.20" y="818.20" font-size="11.2" fill="#333" text-anchor="end" textLength="30.03" lengthAdjust="spacingAndGlyphs">93.48</text>
<text x="690.00" y="818.20" font-size="11.2" fill="#333" text-anchor="end" textLength="35.93" lengthAdjust="spacingAndGlyphs">115.51</text>
<text x="784.70" y="818.20" font-size="11.2" fill="#333" text-anchor="end" textLength="23.30" lengthAdjust="spacingAndGlyphs">93.5</text>
<text x="882.70" y="818.20" font-size="11.2" fill="#333" text-anchor="end" textLength="23.30" lengthAdjust="spacingAndGlyphs">92.7</text>
<text x="977.70" y="818.20" font-size="11.2" fill="#333" text-anchor="end" textLength="23.30" lengthAdjust="spacingAndGlyphs">94.2</text>
<text x="258.20" y="835.85" font-size="10.5" font-weight="bold" fill="#161616" textLength="21.42" lengthAdjust="spacing">PEF</text>
<text x="341.00" y="835.85" font-size="10.8" fill="#363636" text-anchor="end" textLength="18.80" lengthAdjust="spacing">L/m</text>
<text x="419.50" y="835.85" font-size="11.2" fill="#333" text-anchor="end" textLength="19.69" lengthAdjust="spacingAndGlyphs">348</text>
<text x="507.00" y="835.85" font-size="11.2" fill="#333" text-anchor="end" textLength="19.69" lengthAdjust="spacingAndGlyphs">553</text>
<text x="589.20" y="835.85" font-size="11.2" fill="#333" text-anchor="end" textLength="19.69" lengthAdjust="spacingAndGlyphs">784</text>
<text x="690.00" y="835.85" font-size="11.2" fill="#333" text-anchor="end" textLength="30.03" lengthAdjust="spacingAndGlyphs">141.8</text>
<text x="784.70" y="835.85" font-size="11.2" fill="#333" text-anchor="end" textLength="19.69" lengthAdjust="spacingAndGlyphs">784</text>
<text x="882.70" y="835.85" font-size="11.2" fill="#333" text-anchor="end" textLength="19.69" lengthAdjust="spacingAndGlyphs">712</text>
<text x="977.70" y="835.85" font-size="11.2" fill="#333" text-anchor="end" textLength="19.69" lengthAdjust="spacingAndGlyphs">732</text>
<text x="258.20" y="853.50" font-size="10.5" font-weight="bold" fill="#161616" textLength="46.19" lengthAdjust="spacing">FEF2575</text>
<text x="341.00" y="853.50" font-size="10.8" fill="#363636" text-anchor="end" textLength="15.21" lengthAdjust="spacing">L/s</text>
<text x="419.50" y="853.50" font-size="11.2" fill="#333" text-anchor="end" textLength="22.47" lengthAdjust="spacingAndGlyphs">2.11</text>
<text x="507.00" y="853.50" font-size="11.2" fill="#333" text-anchor="end" textLength="23.30" lengthAdjust="spacingAndGlyphs">3.72</text>
<text x="589.20" y="853.50" font-size="11.2" fill="#333" text-anchor="end" textLength="16.57" lengthAdjust="spacingAndGlyphs">6.1</text>
<text x="690.00" y="853.50" font-size="11.2" fill="#333" text-anchor="end" textLength="36.76" lengthAdjust="spacingAndGlyphs">163.83</text>
<text x="784.70" y="853.50" font-size="11.2" fill="#333" text-anchor="end" textLength="16.57" lengthAdjust="spacingAndGlyphs">6.1</text>
<text x="882.70" y="853.50" font-size="11.2" fill="#333" text-anchor="end" textLength="16.57" lengthAdjust="spacingAndGlyphs">6.5</text>
<text x="977.70" y="853.50" font-size="11.2" fill="#333" text-anchor="end" textLength="23.30" lengthAdjust="spacingAndGlyphs">5.84</text>
<text x="258.20" y="871.15" font-size="10.5" font-weight="bold" fill="#161616" textLength="33.51" lengthAdjust="spacing">FEF25</text>
<text x="341.00" y="871.15" font-size="10.8" fill="#363636" text-anchor="end" textLength="15.21" lengthAdjust="spacing">L/s</text>
<text x="419.50" y="871.15" font-size="11.2" fill="#333" text-anchor="end" textLength="3.73" lengthAdjust="spacingAndGlyphs">-</text>
<text x="507.00" y="871.15" font-size="11.2" fill="#333" text-anchor="end" textLength="3.73" lengthAdjust="spacingAndGlyphs">-</text>
<text x="589.20" y="871.15" font-size="11.2" fill="#333" text-anchor="end" textLength="29.20" lengthAdjust="spacingAndGlyphs">11.72</text>
<text x="690.00" y="871.15" font-size="11.2" fill="#333" text-anchor="end" textLength="3.73" lengthAdjust="spacingAndGlyphs">-</text>
<text x="784.70" y="871.15" font-size="11.2" fill="#333" text-anchor="end" textLength="29.20" lengthAdjust="spacingAndGlyphs">11.72</text>
<text x="882.70" y="871.15" font-size="11.2" fill="#333" text-anchor="end" textLength="29.20" lengthAdjust="spacingAndGlyphs">11.45</text>
<text x="977.70" y="871.15" font-size="11.2" fill="#333" text-anchor="end" textLength="29.20" lengthAdjust="spacingAndGlyphs">11.28</text>
<text x="258.20" y="888.80" font-size="10.5" font-weight="bold" fill="#161616" textLength="33.51" lengthAdjust="spacing">FEF50</text>
<text x="341.00" y="888.80" font-size="10.8" fill="#363636" text-anchor="end" textLength="15.21" lengthAdjust="spacing">L/s</text>
<text x="419.50" y="888.80" font-size="11.2" fill="#333" text-anchor="end" textLength="3.73" lengthAdjust="spacingAndGlyphs">-</text>
<text x="507.00" y="888.80" font-size="11.2" fill="#333" text-anchor="end" textLength="3.73" lengthAdjust="spacingAndGlyphs">-</text>
<text x="589.20" y="888.80" font-size="11.2" fill="#333" text-anchor="end" textLength="23.30" lengthAdjust="spacingAndGlyphs">6.53</text>
<text x="690.00" y="888.80" font-size="11.2" fill="#333" text-anchor="end" textLength="3.73" lengthAdjust="spacingAndGlyphs">-</text>
<text x="784.70" y="888.80" font-size="11.2" fill="#333" text-anchor="end" textLength="23.30" lengthAdjust="spacingAndGlyphs">6.53</text>
<text x="882.70" y="888.80" font-size="11.2" fill="#333" text-anchor="end" textLength="23.30" lengthAdjust="spacingAndGlyphs">6.82</text>
<text x="977.70" y="888.80" font-size="11.2" fill="#333" text-anchor="end" textLength="23.30" lengthAdjust="spacingAndGlyphs">6.12</text>
<text x="258.20" y="906.45" font-size="10.5" font-weight="bold" fill="#161616" textLength="33.51" lengthAdjust="spacing">FEF75</text>
<text x="341.00" y="906.45" font-size="10.8" fill="#363636" text-anchor="end" textLength="15.21" lengthAdjust="spacing">L/s</text>
<text x="419.50" y="906.45" font-size="11.2" fill="#333" text-anchor="end" textLength="23.30" lengthAdjust="spacingAndGlyphs">0.69</text>
<text x="507.00" y="906.45" font-size="11.2" fill="#333" text-anchor="end" textLength="23.30" lengthAdjust="spacingAndGlyphs">1.41</text>
<text x="589.20" y="906.45" font-size="11.2" fill="#333" text-anchor="end" textLength="23.30" lengthAdjust="spacingAndGlyphs">3.34</text>
<text x="690.00" y="906.45" font-size="11.2" fill="#333" text-anchor="end" textLength="36.76" lengthAdjust="spacingAndGlyphs">236.87</text>
<text x="784.70" y="906.45" font-size="11.2" fill="#333" text-anchor="end" textLength="23.30" lengthAdjust="spacingAndGlyphs">3.34</text>
<text x="882.70" y="906.45" font-size="11.2" fill="#333" text-anchor="end" textLength="23.30" lengthAdjust="spacingAndGlyphs">3.54</text>
<text x="977.70" y="906.45" font-size="11.2" fill="#333" text-anchor="end" textLength="23.30" lengthAdjust="spacingAndGlyphs">3.05</text>
<text x="258.20" y="924.10" font-size="10.5" font-weight="bold" fill="#161616" textLength="48.50" lengthAdjust="spacing">PEFTIME</text>
<text x="341.00" y="924.10" font-size="10.8" fill="#363636" text-anchor="end" textLength="5.40" lengthAdjust="spacing">s</text>
<text x="419.50" y="924.10" font-size="11.2" fill="#333" text-anchor="end" textLength="3.73" lengthAdjust="spacingAndGlyphs">-</text>
<text x="507.00" y="924.10" font-size="11.2" fill="#333" text-anchor="end" textLength="3.73" lengthAdjust="spacingAndGlyphs">-</text>
<text x="589.20" y="924.10" font-size="11.2" fill="#333" text-anchor="end" textLength="23.30" lengthAdjust="spacingAndGlyphs">0.55</text>
<text x="690.00" y="924.10" font-size="11.2" fill="#333" text-anchor="end" textLength="3.73" lengthAdjust="spacingAndGlyphs">-</text>
<text x="784.70" y="924.10" font-size="11.2" fill="#333" text-anchor="end" textLength="23.30" lengthAdjust="spacingAndGlyphs">0.55</text>
<text x="882.70" y="924.10" font-size="11.2" fill="#333" text-anchor="end" textLength="23.30" lengthAdjust="spacingAndGlyphs">0.96</text>
<text x="977.70" y="924.10" font-size="11.2" fill="#333" text-anchor="end" textLength="23.30" lengthAdjust="spacingAndGlyphs">0.58</text>
<text x="258.20" y="941.75" font-size="10.5" font-weight="bold" fill="#161616" textLength="28.92" lengthAdjust="spacing">VEXT</text>
<text x="341.00" y="941.75" font-size="10.8" fill="#363636" text-anchor="end" textLength="11.80" lengthAdjust="spacing">ml</text>
<text x="419.50" y="941.75" font-size="11.2" fill="#333" text-anchor="end" textLength="23.30" lengthAdjust="spacingAndGlyphs">3.82</text>
<text x="507.00" y="941.75" font-size="11.2" fill="#333" text-anchor="end" textLength="23.30" lengthAdjust="spacingAndGlyphs">4.77</text>
<text x="589.20" y="941.75" font-size="11.2" fill="#333" text-anchor="end" textLength="23.30" lengthAdjust="spacingAndGlyphs">1.39</text>
<text x="690.00" y="941.75" font-size="11.2" fill="#333" text-anchor="end" textLength="30.03" lengthAdjust="spacingAndGlyphs">29.15</text>
<text x="784.70" y="941.75" font-size="11.2" fill="#333" text-anchor="end" textLength="3.73" lengthAdjust="spacingAndGlyphs">-</text>
<text x="882.70" y="941.75" font-size="11.2" fill="#333" text-anchor="end" textLength="3.73" lengthAdjust="spacingAndGlyphs">-</text>
<text x="977.70" y="941.75" font-size="11.2" fill="#333" text-anchor="end" textLength="3.73" lengthAdjust="spacingAndGlyphs">-</text>
<text x="258.30" y="971.70" font-size="14" font-weight="bold" fill="#1c1c1c" textLength="72.20" lengthAdjust="spacingAndGlyphs">OXIMETRY</text>
<line x1="258" y1="979.7" x2="988" y2="979.7" stroke="#a8a8a8" stroke-width="1.6"/>
<text x="258.30" y="1009.70" font-size="14" font-weight="bold" fill="#1c1c1c" textLength="47.20" lengthAdjust="spacingAndGlyphs">NOTES</text>
<line x1="258" y1="1018" x2="988" y2="1018" stroke="#a8a8a8" stroke-width="1.6"/>
<line x1="258" y1="1060.5" x2="988" y2="1060.5" stroke="#aeaeae" stroke-width="1.6"/>
<g stroke="#5d6580" stroke-width="2.7" stroke-linecap="round" fill="none"><path d="M259.6,1074.6 L265.6,1066.9 L271.4,1074.6"/><path d="M270.6,1066.9 L277,1074.6"/><path d="M275.8,1066.9 L282.2,1074.6"/></g><circle cx="265" cy="1073.6" r="1.1" fill="#5d6580"/>
<text x="285.60" y="1075.60" font-size="13.2" font-weight="bold" fill="#5d6580" textLength="31.20" lengthAdjust="spacingAndGlyphs" stroke="#5d6580" stroke-width="0.9">MIR</text>
<text x="774.40" y="1074.40" font-size="9.0" fill="#333" textLength="117.00" lengthAdjust="spacingAndGlyphs">SPIROBANK SMART Z031947</text>
<text x="893.60" y="1074.40" font-size="9.0" fill="#333" textLength="94.60" lengthAdjust="spacingAndGlyphs">- Sent on 3 July 2020 01:24</text>
</svg>
</body></html>
